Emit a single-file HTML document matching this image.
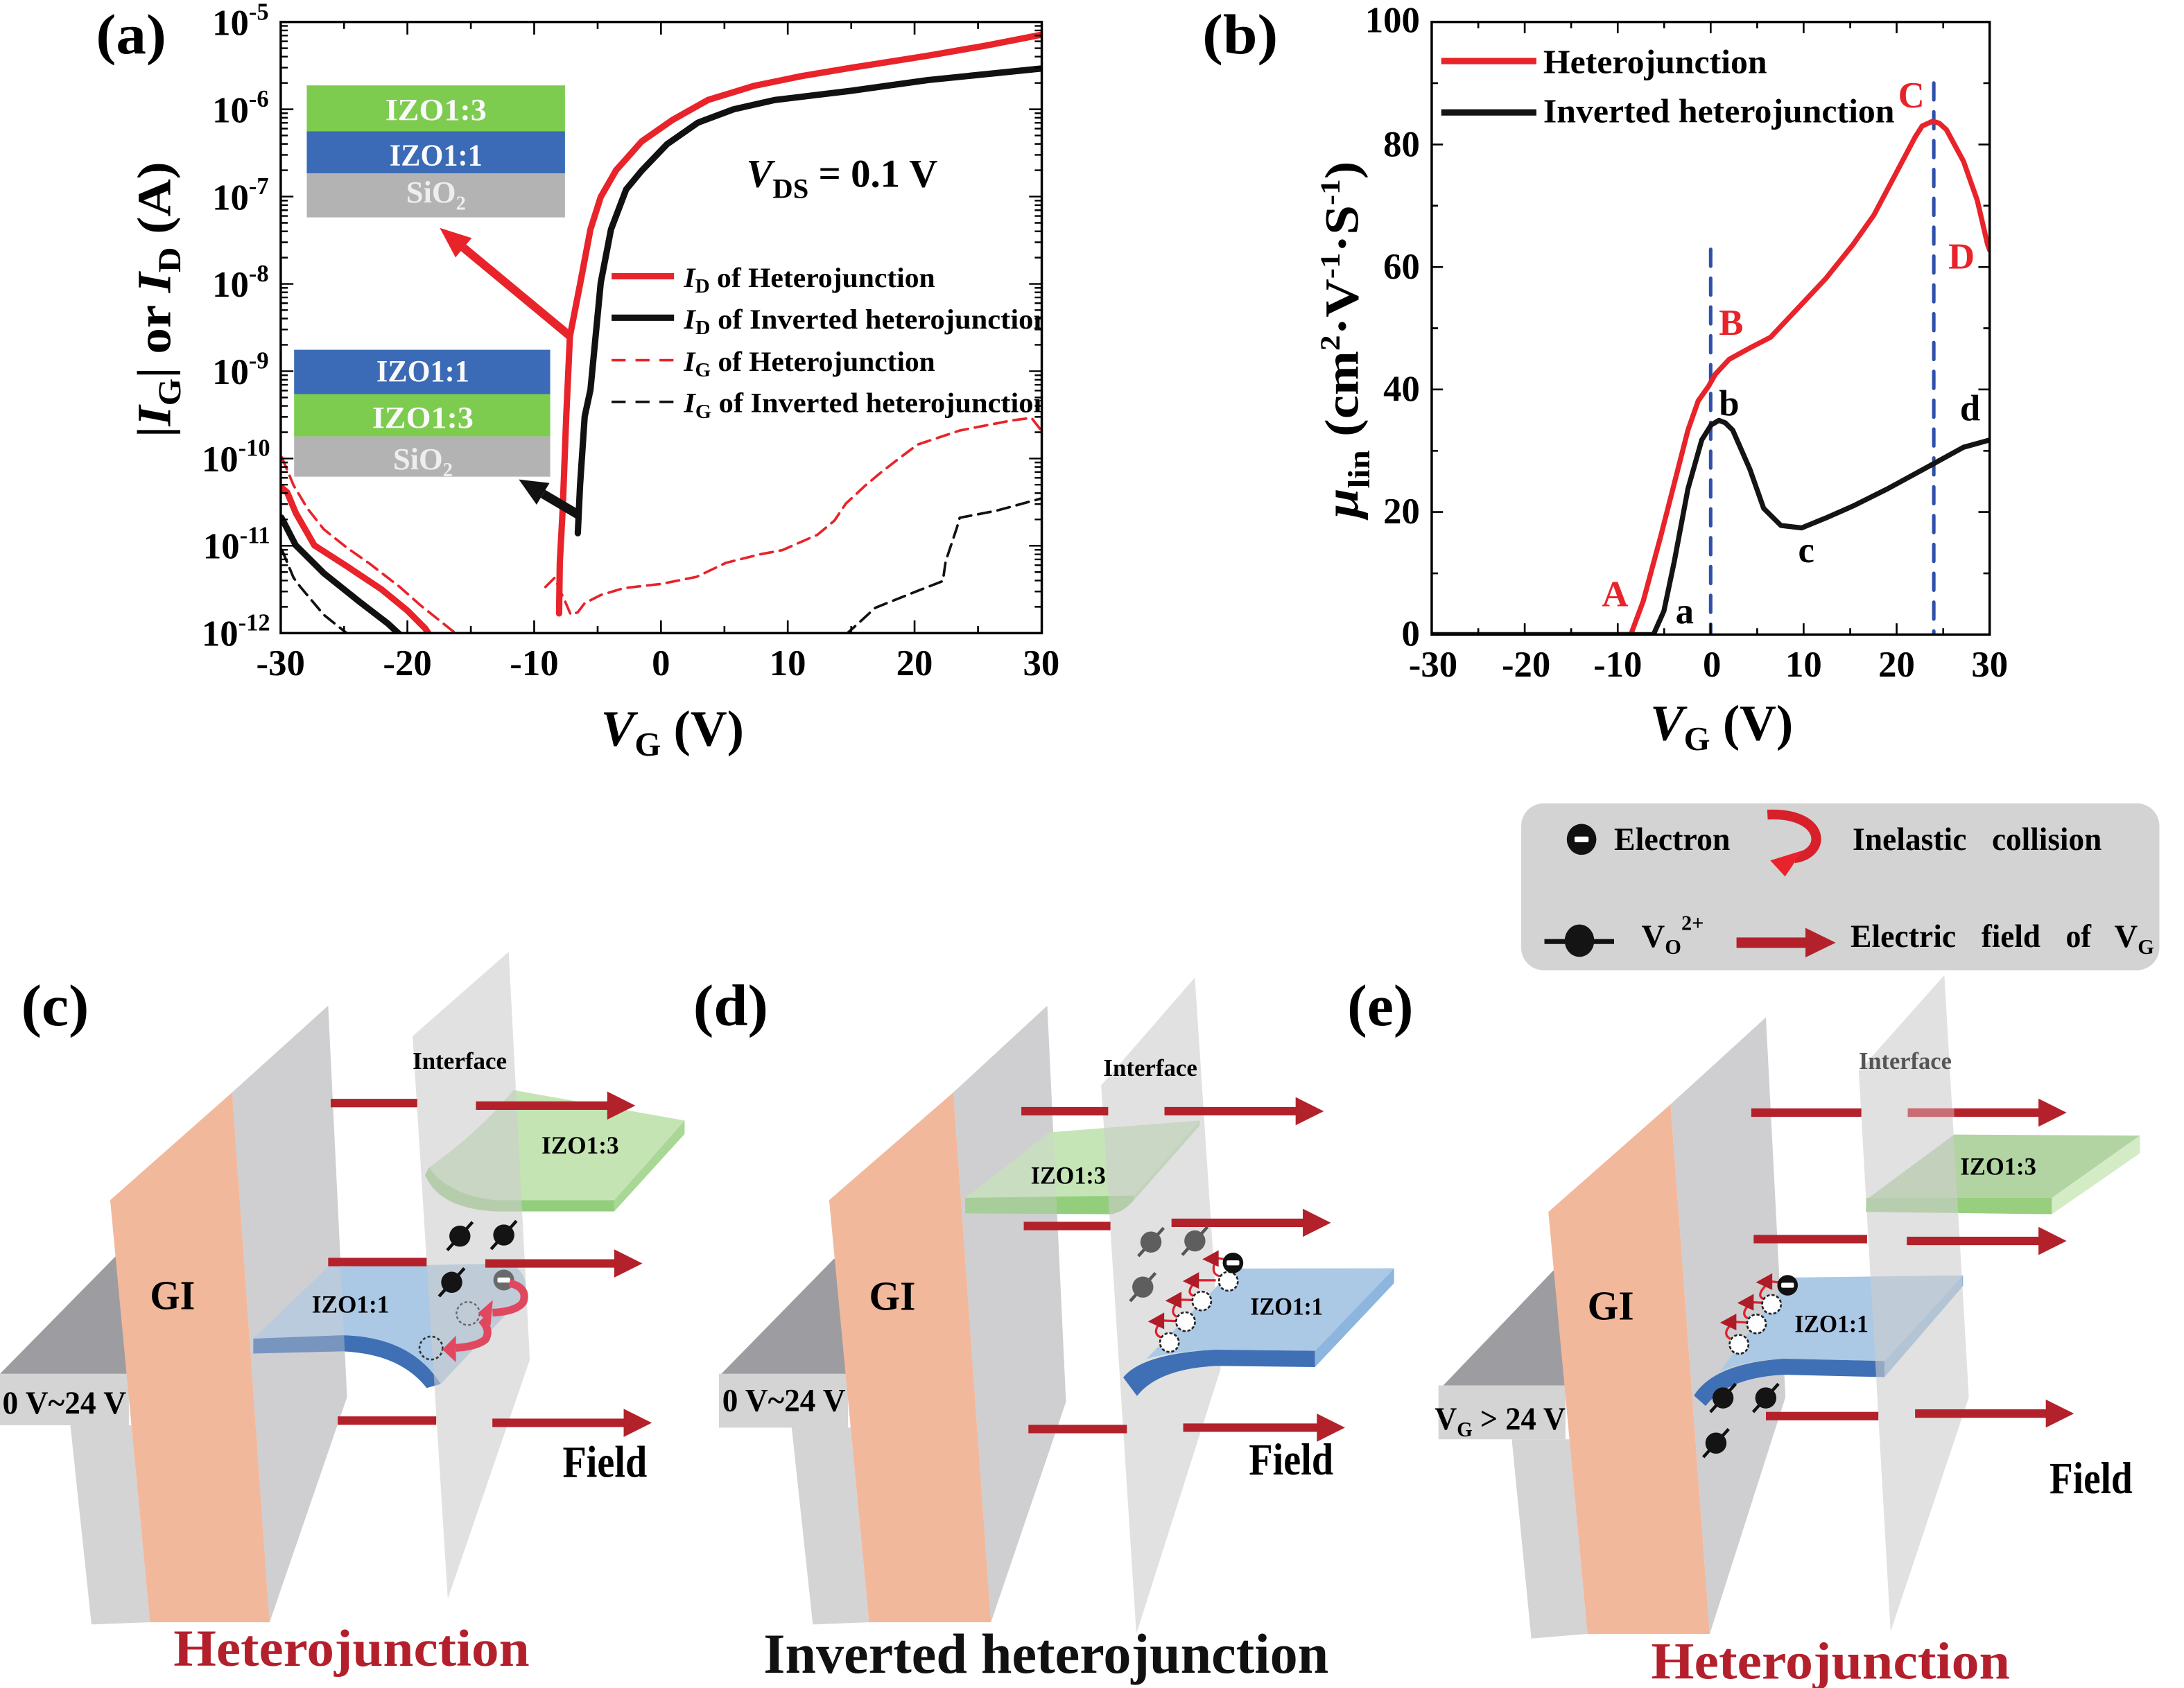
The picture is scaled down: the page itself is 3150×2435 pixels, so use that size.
<!DOCTYPE html>
<html>
<head>
<meta charset="utf-8">
<style>
html,body{margin:0;padding:0;background:#fff;}
svg{display:block;}
text{font-family:"Liberation Serif","Times New Roman",serif;font-weight:bold;}
</style>
</head>
<body>
<svg width="3150" height="2435" viewBox="0 0 1552 1199.75" preserveAspectRatio="none" xmlns="http://www.w3.org/2000/svg">
<defs>
  <g id="dl"><path d="M0,0h9 M0,-18.7h5 M0,-29.6h5 M0,-37.4h5 M0,-43.4h5 M0,-48.3h5 M0,-52.4h5 M0,-56h5 M0,-59.2h5" stroke="#000" stroke-width="1.2" fill="none"/></g>
  <g id="vo"><line x1="-9" y1="10" x2="9" y2="-10" stroke="#111" stroke-width="2.2"/><circle r="7.5" fill="#141414"/></g>
  <g id="vog"><line x1="-9" y1="10" x2="9" y2="-10" stroke="#555" stroke-width="2.2"/><circle r="7.5" fill="#5e5e5e"/></g>
  <g id="el"><circle r="7.3" fill="#111"/><rect x="-4.5" y="-1.8" width="9" height="3.6" rx="1" fill="#fff"/></g>
  <g id="wc"><circle r="6.7" fill="#fff" stroke="#222" stroke-width="1.3" stroke-dasharray="2.2 1.3"/></g>
  <clipPath id="clipA"><rect x="199.5" y="15.6" width="540.8" height="434.4"/></clipPath>
  <clipPath id="clipB"><rect x="1017.4" y="15.6" width="396.5" height="435.4"/></clipPath>
</defs>
<rect x="0" y="0" width="1552" height="1199.75" fill="#fff"/>

<!-- ================= PANEL (a) ================= -->
<text x="68.2" y="38" font-size="40" textLength="50" lengthAdjust="spacingAndGlyphs">(a)</text>

<rect x="218" y="60.7" width="183.5" height="32.6" fill="#7dcb4f"/>
<rect x="218" y="93.3" width="183.5" height="29.9" fill="#3b6bb6"/>
<rect x="218" y="123.2" width="183.5" height="31.3" fill="#b3b3b3"/>
<text x="309.8" y="85.3" font-size="22" fill="#fafafa" text-anchor="middle" textLength="72" lengthAdjust="spacingAndGlyphs">IZO1:3</text>
<text x="309.8" y="117.5" font-size="22" fill="#fafafa" text-anchor="middle" textLength="66" lengthAdjust="spacingAndGlyphs">IZO1:1</text>
<text x="309.8" y="144" font-size="22" fill="#eeeeee" text-anchor="middle">SiO<tspan font-size="14" dy="5">2</tspan></text>

<rect x="209" y="248.6" width="182" height="31.5" fill="#3b6bb6"/>
<rect x="209" y="280.1" width="182" height="30.1" fill="#7dcb4f"/>
<rect x="209" y="310.2" width="182" height="28.6" fill="#b3b3b3"/>
<text x="300.5" y="271" font-size="22" fill="#fafafa" text-anchor="middle" textLength="66" lengthAdjust="spacingAndGlyphs">IZO1:1</text>
<text x="300.5" y="304" font-size="22" fill="#fafafa" text-anchor="middle" textLength="72" lengthAdjust="spacingAndGlyphs">IZO1:3</text>
<text x="300.5" y="333.5" font-size="22" fill="#eeeeee" text-anchor="middle">SiO<tspan font-size="14" dy="5">2</tspan></text>

<g clip-path="url(#clipA)" fill="none" stroke-linejoin="round" stroke-linecap="round">
  <polyline stroke="#e8232a" stroke-width="1.8" stroke-dasharray="9 5" points="200.4,325.2 208.6,344.9 218.4,361.3 230,376.1 246.4,389.2 262.8,400.7 284.1,417.2 298.9,430.3 315.3,443.4 323.6,450"/>
  <polyline stroke="#111" stroke-width="1.8" stroke-dasharray="9 5" points="200.4,390.9 208.6,410.6 213.5,417.2 230,436.9 246.4,450"/>
  <polyline stroke="#e8232a" stroke-width="1.8" stroke-dasharray="9 5" points="387.6,417.2 394.2,410.6 398,420 400.7,425.4 405.6,436.9 410.6,435.2 415.5,428.7 427,422.9 443.4,418 470,415 495,410 516,400 540,394 556,391 581,380 593,370 601,358 615,345 627,335 640,325 652,316 682,306 718,299 733,297 740,306"/>
  <polyline stroke="#111" stroke-width="1.8" stroke-dasharray="9 5" points="601,451 610,443 622,432 652,420 670,413 672,399 680,375 682,368 708,363 741,354"/>
  <polyline stroke="#e8232a" stroke-width="4.5" points="200,346.5 204.1,350 210.2,364.6 223.4,387.6 246.4,402.4 271,418.8 289.1,433.6 302.2,446.7 305,451"/>
  <polyline stroke="#111" stroke-width="4.5" points="200,367.9 210.2,387.6 230,407.3 254.6,427 275.9,443.4 284.1,451"/>
  <polyline stroke="#e8232a" stroke-width="4.5" points="397.3,436 397.8,400 399.9,361.3 402.4,295.6 405,239 412.4,201 419.6,163 426.9,140 437.8,121 456,100.5 477.8,85.3 503.2,71 536,61 570,54 606,48 660,39.5 700,32.5 741,24.5"/>
  <polyline stroke="#111" stroke-width="4.5" points="410.6,379 412.2,345 415.5,296 419.6,277 426.9,201 434.2,163 445,134.6 456,121.3 474.1,102.4 495.9,87.2 521.3,77.7 550.4,71.1 604.9,64.5 659.4,56.9 741,48.6"/>
</g>
<line x1="405" y1="238.8" x2="329.4" y2="176.1" stroke="#e8232a" stroke-width="6"/>
<polygon points="312.5,162 335.2,169.2 323.7,183" fill="#e8232a"/>
<line x1="410.6" y1="365.6" x2="385.9" y2="351" stroke="#111" stroke-width="6.5"/>
<polygon points="368.7,340.8 390.5,343.3 381.3,358.7" fill="#111"/>

<rect x="199.5" y="15.6" width="540.8" height="434.4" fill="none" stroke="#000" stroke-width="1.7"/>
<use href="#dl" transform="translate(199.5,77.66)"/>
<use href="#dl" transform="translate(199.5,139.7)"/>
<use href="#dl" transform="translate(199.5,201.8)"/>
<use href="#dl" transform="translate(199.5,263.8)"/>
<use href="#dl" transform="translate(199.5,325.9)"/>
<use href="#dl" transform="translate(199.5,387.9)"/>
<use href="#dl" transform="translate(199.5,450)"/>
<use href="#dl" transform="translate(740.3,77.66) scale(-1,1)"/>
<use href="#dl" transform="translate(740.3,139.7) scale(-1,1)"/>
<use href="#dl" transform="translate(740.3,201.8) scale(-1,1)"/>
<use href="#dl" transform="translate(740.3,263.8) scale(-1,1)"/>
<use href="#dl" transform="translate(740.3,325.9) scale(-1,1)"/>
<use href="#dl" transform="translate(740.3,387.9) scale(-1,1)"/>
<use href="#dl" transform="translate(740.3,450) scale(-1,1)"/>
<path d="M289.5,450v-9 M379.6,450v-9 M469.7,450v-9 M559.8,450v-9 M649.9,450v-9 M244.5,450v-5 M334.6,450v-5 M424.7,450v-5 M514.8,450v-5 M604.9,450v-5 M695,450v-5
 M289.5,15.6v9 M379.6,15.6v9 M469.7,15.6v9 M559.8,15.6v9 M649.9,15.6v9 M244.5,15.6v5 M334.6,15.6v5 M424.7,15.6v5 M514.8,15.6v5 M604.9,15.6v5 M695,15.6v5" stroke="#000" stroke-width="1.3" fill="none"/>

<g font-size="26" text-anchor="end">
<text x="191" y="25">10<tspan font-size="17" dy="-11">-5</tspan></text>
<text x="191" y="87">10<tspan font-size="17" dy="-11">-6</tspan></text>
<text x="191" y="149">10<tspan font-size="17" dy="-11">-7</tspan></text>
<text x="191" y="211">10<tspan font-size="17" dy="-11">-8</tspan></text>
<text x="191" y="273">10<tspan font-size="17" dy="-11">-9</tspan></text>
<text x="192" y="335">10<tspan font-size="17" dy="-11">-10</tspan></text>
<text x="192" y="397">10<tspan font-size="17" dy="-11">-11</tspan></text>
<text x="192" y="459">10<tspan font-size="17" dy="-11">-12</tspan></text>
</g>
<g font-size="26" text-anchor="middle">
<text x="199.4" y="480">-30</text>
<text x="289.5" y="480">-20</text>
<text x="379.6" y="480">-10</text>
<text x="469.7" y="480">0</text>
<text x="559.8" y="480">10</text>
<text x="649.9" y="480">20</text>
<text x="740" y="480">30</text>
</g>
<text x="427" y="530" font-size="36"><tspan font-style="italic">V</tspan><tspan font-size="24" dy="7">G</tspan><tspan dy="-7"> (V)</tspan></text>
<text transform="translate(121,213) rotate(-90)" text-anchor="middle" font-size="34" textLength="196" lengthAdjust="spacingAndGlyphs">|<tspan font-style="italic">I</tspan><tspan font-size="23" dy="7">G</tspan><tspan dy="-7">| or </tspan><tspan font-style="italic">I</tspan><tspan font-size="23" dy="7">D</tspan><tspan dy="-7"> (A)</tspan></text>

<text x="530.4" y="132.7" font-size="28"><tspan font-style="italic">V</tspan><tspan font-size="20" dy="8">DS</tspan><tspan dy="-8"> = 0.1 V</tspan></text>

<line x1="434.6" y1="196.3" x2="479" y2="196.3" stroke="#e8232a" stroke-width="4.5"/>
<line x1="434.6" y1="225.8" x2="479" y2="225.8" stroke="#111" stroke-width="4.5"/>
<line x1="434.6" y1="256" x2="479" y2="256" stroke="#e8232a" stroke-width="1.8" stroke-dasharray="10 7"/>
<line x1="434.6" y1="285.6" x2="479" y2="285.6" stroke="#111" stroke-width="1.8" stroke-dasharray="10 7"/>
<g font-size="20" clip-path="url(#clipA)">
<text x="486" y="204" textLength="178.5" lengthAdjust="spacingAndGlyphs"><tspan font-style="italic">I</tspan><tspan font-size="14" dy="4">D</tspan><tspan dy="-4"> of Heterojunction</tspan></text>
<text x="486" y="233.5" textLength="260" lengthAdjust="spacingAndGlyphs"><tspan font-style="italic">I</tspan><tspan font-size="14" dy="4">D</tspan><tspan dy="-4"> of Inverted heterojunction</tspan></text>
<text x="486" y="263.5" textLength="178.5" lengthAdjust="spacingAndGlyphs"><tspan font-style="italic">I</tspan><tspan font-size="14" dy="4">G</tspan><tspan dy="-4"> of Heterojunction</tspan></text>
<text x="486" y="293" textLength="260" lengthAdjust="spacingAndGlyphs"><tspan font-style="italic">I</tspan><tspan font-size="14" dy="4">G</tspan><tspan dy="-4"> of Inverted heterojunction</tspan></text>
</g>

<!-- ================= PANEL (b) ================= -->
<text x="854.4" y="38" font-size="40" textLength="53.8" lengthAdjust="spacingAndGlyphs">(b)</text>
<g clip-path="url(#clipB)" fill="none" stroke-linejoin="round" stroke-linecap="round">
  <line x1="1215.65" y1="177.2" x2="1215.65" y2="451" stroke="#2f50aa" stroke-width="2.5" stroke-dasharray="12 8.5"/>
  <line x1="1374.2" y1="59" x2="1374.2" y2="451" stroke="#2f50aa" stroke-width="2.5" stroke-dasharray="12 8.5"/>
  <polyline stroke="#e8232a" stroke-width="3.6" points="1150,451 1158.9,451 1167.7,427.3 1179.9,382.1 1189.7,343.9 1199.5,305.7 1206.8,284.9 1214.2,274.4 1219.1,265.8 1228.9,255.3 1243.5,247.3 1258.2,239.7 1277.8,218.9 1297.4,198 1316.9,173.7 1331.6,152.9 1346.3,125.1 1361,97.3 1366,89.5 1373.3,86.2 1378,87.5 1383.1,92.1 1395.3,114.6 1405.1,142.4 1412.4,173.7 1414,178"/>
  <polyline stroke="#141414" stroke-width="3.6" points="1017.4,451 1175,451 1182.4,434.3 1189.7,399.5 1199.5,347.4 1209.3,312.7 1216,302 1221.5,298.8 1226,300.5 1231.3,305.7 1243.5,333.5 1253.3,361.3 1265.6,373.5 1280.3,375.2 1297.4,368.2 1316.9,359.6 1341.4,347.4 1373.3,330 1395.3,317.9 1414,312.7"/>
</g>
<rect x="1017.4" y="15.6" width="396.5" height="435.4" fill="none" stroke="#000" stroke-width="1.7"/>
<path d="M1017.4,363.9h8 M1017.4,276.8h8 M1017.4,189.8h8 M1017.4,102.7h8 M1017.4,407.5h4.5 M1017.4,320.4h4.5 M1017.4,233.3h4.5 M1017.4,146.2h4.5 M1017.4,59.1h4.5
 M1413.9,363.9h-8 M1413.9,276.8h-8 M1413.9,189.8h-8 M1413.9,102.7h-8 M1413.9,407.5h-4.5 M1413.9,320.4h-4.5 M1413.9,233.3h-4.5 M1413.9,146.2h-4.5 M1413.9,59.1h-4.5
 M1083.5,451v-8 M1149.6,451v-8 M1215.65,451v-8 M1281.7,451v-8 M1347.8,451v-8 M1050.5,451v-4.5 M1116.5,451v-4.5 M1182.6,451v-4.5 M1248.7,451v-4.5 M1314.8,451v-4.5 M1380.9,451v-4.5
 M1083.5,15.6v8 M1149.6,15.6v8 M1215.65,15.6v8 M1281.7,15.6v8 M1347.8,15.6v8 M1050.5,15.6v4.5 M1116.5,15.6v4.5 M1182.6,15.6v4.5 M1248.7,15.6v4.5 M1314.8,15.6v4.5 M1380.9,15.6v4.5" stroke="#000" stroke-width="1.3" fill="none"/>
<g font-size="26" text-anchor="end">
<text x="1009" y="23">100</text>
<text x="1009" y="111">80</text>
<text x="1009" y="198">60</text>
<text x="1009" y="285">40</text>
<text x="1009" y="372">20</text>
<text x="1009" y="459">0</text>
</g>
<g font-size="26" text-anchor="middle">
<text x="1018.4" y="481">-30</text>
<text x="1084.5" y="481">-20</text>
<text x="1149.6" y="481">-10</text>
<text x="1216.6" y="481">0</text>
<text x="1281.7" y="481">10</text>
<text x="1347.8" y="481">20</text>
<text x="1413.9" y="481">30</text>
</g>
<text x="1172.6" y="526" font-size="36"><tspan font-style="italic">V</tspan><tspan font-size="24" dy="7">G</tspan><tspan dy="-7"> (V)</tspan></text>
<text transform="translate(965,241.4) rotate(-90)" text-anchor="middle" font-size="34" textLength="253.6" lengthAdjust="spacingAndGlyphs"><tspan font-style="italic">μ</tspan><tspan font-size="22" dy="8">lin</tspan><tspan dy="-8">  (cm</tspan><tspan font-size="20" dy="-13">2</tspan><tspan dy="13">·V</tspan><tspan font-size="20" dy="-13">-1</tspan><tspan dy="13">·S</tspan><tspan font-size="20" dy="-13">-1</tspan><tspan dy="13">)</tspan></text>
<line x1="1024.2" y1="43.4" x2="1091.8" y2="43.4" stroke="#e8232a" stroke-width="4.5"/>
<line x1="1024.2" y1="79.9" x2="1091.8" y2="79.9" stroke="#141414" stroke-width="4.5"/>
<text x="1096.7" y="52" font-size="24" textLength="159" lengthAdjust="spacingAndGlyphs">Heterojunction</text>
<text x="1096.7" y="87" font-size="24" textLength="249.6" lengthAdjust="spacingAndGlyphs">Inverted heterojunction</text>
<g font-size="26">
<text x="1138.3" y="430.8" fill="#e8232a">A</text>
<text x="1190.7" y="443">a</text>
<text x="1221.5" y="238" fill="#e8232a">B</text>
<text x="1221.5" y="295.3">b</text>
<text x="1348.8" y="76.4" fill="#e8232a">C</text>
<text x="1277.8" y="399.5">c</text>
<text x="1384.5" y="191" fill="#e8232a">D</text>
<text x="1392.8" y="298.8">d</text>
</g>

<!-- ================= LEGEND BOX ================= -->
<rect x="1081" y="571" width="453.5" height="118.6" rx="16" ry="16" fill="#d3d3d3"/>
<g transform="translate(1123.9,596.6)"><ellipse rx="10.5" ry="11" fill="#111"/><rect x="-5" y="-2" width="10" height="4" rx="1" fill="#fff"/></g>
<text x="1147" y="604" font-size="23" textLength="82.5" lengthAdjust="spacingAndGlyphs">Electron</text>
<path d="M1256,579 C1296,577 1300,606 1275,610" fill="none" stroke="#d8202b" stroke-width="7"/>
<polygon points="1258,611.6 1281,604.5 1268.5,623" fill="#e8232a"/>
<text x="1316.5" y="604" font-size="23" textLength="81" lengthAdjust="spacingAndGlyphs">Inelastic</text>
<text x="1415.5" y="604" font-size="23" textLength="78" lengthAdjust="spacingAndGlyphs">collision</text>
<line x1="1097.5" y1="669.2" x2="1147" y2="669.2" stroke="#111" stroke-width="3.5"/>
<ellipse cx="1122.4" cy="668.6" rx="10.5" ry="11.5" fill="#141414"/>
<text x="1166.5" y="673" font-size="23">V<tspan font-size="15" dy="5">O</tspan><tspan font-size="15" dy="-17">2+</tspan></text>
<path d="M1234,666.3 L1283,666.3 L1283,659.5 L1304.5,670 L1283,680.5 L1283,673.7 L1234,673.7 Z" fill="#b3212b"/>
<text x="1315" y="673" font-size="23" textLength="75" lengthAdjust="spacingAndGlyphs">Electric</text>
<text x="1408" y="673" font-size="23" textLength="42" lengthAdjust="spacingAndGlyphs">field</text>
<text x="1468" y="673" font-size="23" textLength="18" lengthAdjust="spacingAndGlyphs">of</text>
<text x="1502.5" y="673" font-size="23">V<tspan font-size="15" dy="5">G</tspan></text>

<!-- ================= PANEL (c) ================= -->
<text x="15" y="728.8" font-size="42" textLength="48.3" lengthAdjust="spacingAndGlyphs">(c)</text>
<rect x="0" y="976.4" width="91.6" height="36.6" fill="#d4d4d4"/>
<polygon points="50,1013 93.4,1013 106.6,1153 65,1154.6" fill="#d4d4d4"/>
<polygon points="0,976.4 84,891 93.3,891 93.3,976.4" fill="#9d9da1"/>
<polygon points="78.3,853 165,776.4 191.6,1153 106.6,1153" fill="#f2b89c"/>
<polygon points="165,776.4 233.2,714.8 246.6,993 191.6,1153" fill="#cfcfd1"/>
<path d="M364.9,774.8 L486.5,796.4 L436.5,853 L352,853 Q318,849 304.9,829.7 Q340,805 364.9,774.8 Z" fill="#c4e4b4"/>
<path d="M304.9,829.7 Q318,849 352,853 L436.5,853 L436.5,861 L352,861 Q312,859 302,835 Z" fill="#93ce7c"/>
<path d="M436.5,853 L486.5,796.4 L486.5,806 L436.5,861 Z" fill="#a9d896"/>
<path d="M180,951.4 L233.2,900.4 L363.2,898 Q376,906 373.2,919.7 L313.2,983.7 Q292,950 243.2,949 Z" fill="#abc9e5"/>
<path d="M180,951.4 L243.2,949 Q292,950 313.2,983.7 L303.2,986.5 Q284,962 243.2,960.5 L180,962 Z" fill="#3f6fb5"/>
<polygon points="165,776.4 233.2,714.8 246.6,993 191.6,1153" fill="#cfcfd1" opacity="0.4"/>
<polygon points="293.2,736.4 361.5,676.5 376.5,966.4 318.2,1136.3" fill="#cdcdcd" opacity="0.6"/>
<g fill="#b3212b">
<rect x="235" y="781" width="61.5" height="6"/>
<path d="M338.2,782.8 L431.5,782.8 L431.5,775.8 L451.5,785.8 L431.5,795.8 L431.5,788.8 L338.2,788.8 Z"/>
<rect x="233.2" y="894" width="70" height="6"/>
<path d="M344.9,895 L436.5,895 L436.5,888 L456.5,898 L436.5,908 L436.5,901 L344.9,901 Z"/>
<rect x="240" y="1006.7" width="70" height="6"/>
<path d="M349.9,1008.3 L443.2,1008.3 L443.2,1001.3 L463.2,1011.3 L443.2,1021.3 L443.2,1014.3 L349.9,1014.3 Z"/>
</g>
<use href="#vo" x="326.8" y="878.6"/>
<use href="#vo" x="358" y="877.8"/>
<use href="#vo" x="321" y="911.4"/>
<g transform="translate(358,909.8)"><circle r="7.4" fill="#6a6a6a"/><rect x="-4.5" y="-1.8" width="9" height="3.6" rx="1" fill="#fff"/></g>
<circle cx="332.6" cy="933.6" r="8.2" fill="none" stroke="#666" stroke-width="1.2" stroke-dasharray="2 1.6"/>
<circle cx="306.3" cy="958.1" r="8.2" fill="none" stroke="#333" stroke-width="1.3" stroke-dasharray="2 1.6"/>
<path d="M362,912 Q375,915 372,925 Q368,932 350,933" fill="none" stroke="#e0485f" stroke-width="5.5"/>
<polygon points="350.2,924.1 348.6,942.1 339.9,933.1" fill="#e0485f"/>
<path d="M342,938 Q349,945 345,952 Q339,957 324,958" fill="none" stroke="#e0485f" stroke-width="5.5"/>
<polygon points="324,949.3 324,968.2 314.3,959.2" fill="#e0485f"/>
<text x="1.7" y="1004.7" font-size="23" textLength="88" lengthAdjust="spacingAndGlyphs">0 V~24 V</text>
<text x="106.6" y="930.4" font-size="29" textLength="32" lengthAdjust="spacingAndGlyphs">GI</text>
<text x="293.2" y="759.8" font-size="17" textLength="67" lengthAdjust="spacingAndGlyphs">Interface</text>
<text x="384.8" y="819.8" font-size="17.5" textLength="55" lengthAdjust="spacingAndGlyphs">IZO1:3</text>
<text x="221.6" y="933" font-size="17.5" textLength="55" lengthAdjust="spacingAndGlyphs">IZO1:1</text>
<text x="399.8" y="1049.7" font-size="32" textLength="60" lengthAdjust="spacingAndGlyphs">Field</text>
<text x="123.3" y="1184" font-size="37" fill="#b3202c" textLength="253" lengthAdjust="spacingAndGlyphs">Heterojunction</text>

<!-- ================= PANEL (d) ================= -->
<text x="492.6" y="728.8" font-size="42" textLength="53.3" lengthAdjust="spacingAndGlyphs">(d)</text>
<rect x="510.9" y="976.4" width="91.7" height="38.3" fill="#d4d4d4"/>
<polygon points="562.6,1014.7 604.5,1014.7 617.6,1153 577.6,1154.6" fill="#d4d4d4"/>
<polygon points="512.6,976.4 592.6,894.7 603,894.7 603,976.4" fill="#9d9da1"/>
<polygon points="589.2,853 677.5,776.4 704.2,1153 617.6,1153" fill="#f2b89c"/>
<polygon points="677.5,776.4 744.2,714.8 757.5,996.3 704.2,1153" fill="#cfcfd1"/>
<path d="M685.9,851.4 L745.8,804.8 L852.5,796.4 L805.8,849.7 Z" fill="#c6e5b7"/>
<path d="M685.9,851.4 L805.8,849.7 L805.8,853 Q798,862 789,863 L685.9,862.4 Z" fill="#93ce7c"/>
<path d="M805.8,849.7 L852.5,796.4 L852.5,800 L805.8,853 Z" fill="#b5dca4"/>
<polygon points="677.5,776.4 744.2,714.8 757.5,996.3 704.2,1153" fill="#cfcfd1" opacity="0.35"/>
<polygon points="782.5,771.4 849.1,694.8 867.4,973 807.5,1161.3" fill="#cdcdcd" opacity="0.6"/>
<path d="M877,901.6 L990.7,901.4 L934.5,960.1 L863.9,959.3 Q830,961 814.6,966 L824.5,955.7 Z" fill="#abc9e5"/>
<path d="M798.2,979 Q812,962 863.9,959.3 L934.5,960.1 L934.5,971.6 L863.9,970.8 Q823,973 808,992.2 Z" fill="#3f6fb5"/>
<path d="M934.5,960.1 L990.7,901.4 L990.7,912 L934.5,971.6 Z" fill="#8db6de"/>
<g fill="#b3212b">
<rect x="725.8" y="786.8" width="61.7" height="6"/>
<path d="M827.5,786.8 L920.7,786.8 L920.7,779.8 L940.7,789.8 L920.7,799.8 L920.7,792.8 L827.5,792.8 Z"/>
<rect x="727.5" y="868.4" width="61.6" height="6"/>
<path d="M832.5,866.1 L925.8,866.1 L925.8,859.1 L945.8,869.1 L925.8,879.1 L925.8,872.1 L832.5,872.1 Z"/>
<rect x="730.8" y="1012.7" width="70" height="6"/>
<path d="M840.8,1011.7 L935.8,1011.7 L935.8,1004.7 L955.8,1014.7 L935.8,1024.7 L935.8,1017.7 L840.8,1017.7 Z"/>
</g>
<use href="#vog" x="817.9" y="882.8"/>
<use href="#vog" x="849.1" y="882"/>
<use href="#vog" x="812.1" y="914.8"/>
<g fill="none" stroke="#e0202e" stroke-width="1.6">
<path d="M867,907 C860,906 862,897 866,894.3 L870,895"/>
<path d="M848,921 C842,919 848,911 852,909.9 L864,910"/>
<path d="M836.5,936 C830,933 836,925 839.6,923.8 L848,924"/>
<path d="M825,950.5 C818,948 823,940 827.3,938.6 L836,939"/>
</g>
<g fill="#ad1c27">
<polygon points="854.4,895 866,888.6 866,900.4"/>
<polygon points="840.5,910.6 852,904.2 852,916"/>
<polygon points="828.1,924.5 839.6,918.1 839.6,929.9"/>
<polygon points="815.8,939.3 827.3,932.9 827.3,944.7"/>
</g>
<use href="#wc" x="872.9" y="910.7"/>
<use href="#wc" x="854" y="924.7"/>
<use href="#wc" x="842.5" y="939.4"/>
<use href="#wc" x="831" y="954.2"/>
<use href="#el" x="876.2" y="897.6"/>
<text x="513.3" y="1003" font-size="23" textLength="87.6" lengthAdjust="spacingAndGlyphs">0 V~24 V</text>
<text x="617.6" y="931" font-size="29" textLength="33" lengthAdjust="spacingAndGlyphs">GI</text>
<text x="784.1" y="764.8" font-size="17" textLength="66.7" lengthAdjust="spacingAndGlyphs">Interface</text>
<text x="732.5" y="841.4" font-size="17.5" textLength="53.3" lengthAdjust="spacingAndGlyphs">IZO1:3</text>
<text x="888.5" y="934.5" font-size="17.5" textLength="51.7" lengthAdjust="spacingAndGlyphs">IZO1:1</text>
<text x="887.5" y="1048" font-size="32" textLength="60" lengthAdjust="spacingAndGlyphs">Field</text>
<text x="542.6" y="1189" font-size="40" fill="#111" textLength="401.5" lengthAdjust="spacingAndGlyphs">Inverted heterojunction</text>

<!-- ================= PANEL (e) ================= -->
<text x="957.4" y="728.8" font-size="42" textLength="47" lengthAdjust="spacingAndGlyphs">(e)</text>
<rect x="1022.2" y="984.7" width="90.3" height="38.3" fill="#d4d4d4"/>
<polygon points="1074.3,1023 1115.3,1023 1128.1,1161.3 1088.2,1164.6" fill="#d4d4d4"/>
<polygon points="1025.6,984.7 1103.8,903 1114.2,903 1114.2,984.7" fill="#9d9da1"/>
<polygon points="1100.3,861.4 1187.2,784.8 1215,1161.3 1128.1,1161.3" fill="#f2b89c"/>
<polygon points="1187.2,784.8 1254.9,723.1 1268.8,993 1215,1161.3" fill="#cfcfd1"/>
<path d="M1327.9,851.4 L1388.7,806.4 L1520.7,807.1 L1458.1,851.4 Z" fill="#b2d4a3"/>
<path d="M1326.1,851.4 L1458.1,851.4 L1458.1,863 L1326.1,861.4 Z" fill="#97cf7f"/>
<path d="M1458.1,851.4 L1520.7,807.1 L1520.7,819.7 L1458.1,863 Z" fill="#d3ecc6"/>
<path d="M1272,908 L1395,906.5 L1339.2,967.3 L1267.8,965.7 Q1238,967 1222,975 Z" fill="#abc9e5"/>
<path d="M1203.8,991.9 Q1218,969 1267.8,965.7 L1339.2,967.3 L1339.2,978.8 L1267.8,977.1 Q1228,979 1212,999.3 Z" fill="#3f6fb5"/>
<path d="M1339.2,967.3 L1395,906.5 L1395,914 L1339.2,978.8 Z" fill="#8db6de"/>
<polygon points="1320.9,761.4 1381.7,693.1 1399.1,993 1343.5,1159.6" fill="#cdcdcd" opacity="0.6"/>
<g fill="#b3212b">
<rect x="1244.5" y="787.8" width="78.2" height="6"/>
<path d="M1355.7,787.8 L1448.6,787.8 L1448.6,780.8 L1468.6,790.8 L1448.6,800.8 L1448.6,793.8 L1355.7,793.8 Z"/>
<rect x="1246.2" y="877.7" width="80.6" height="6"/>
<path d="M1355,879 L1448.6,879 L1448.6,872 L1468.6,882 L1448.6,892 L1448.6,885 L1355,885 Z"/>
<rect x="1254.9" y="1003.5" width="79.9" height="6"/>
<path d="M1360.9,1001.7 L1453.8,1001.7 L1453.8,994.7 L1473.8,1004.7 L1453.8,1014.7 L1453.8,1007.7 L1360.9,1007.7 Z"/>
</g>
<rect x="1355.7" y="787.8" width="33" height="6" fill="#e6c9cc" opacity="0.45"/>
<use href="#vo" x="1224.4" y="993.6"/>
<use href="#vo" x="1254.8" y="993.6"/>
<use href="#vo" x="1219.4" y="1025.7"/>
<g fill="none" stroke="#e0202e" stroke-width="1.6">
<path d="M1253,923 C1247,921 1255,912 1259.4,910.9 L1264,911.5"/>
<path d="M1242,937 C1236,934 1242,927 1246.2,925.6 L1253,926"/>
<path d="M1229.5,951.5 C1223,948 1229,941 1233.9,939.6 L1241,940"/>
</g>
<g fill="#ad1c27">
<polygon points="1247.8,911.4 1259.4,905 1259.4,916.8"/>
<polygon points="1234.6,926.1 1246.2,919.7 1246.2,931.5"/>
<polygon points="1222.3,940.1 1233.9,933.7 1233.9,945.5"/>
</g>
<use href="#wc" x="1258.9" y="927.1"/>
<use href="#wc" x="1248.2" y="941"/>
<use href="#wc" x="1235.8" y="955.5"/>
<use href="#el" x="1270.3" y="913.5"/>
<text x="1019.5" y="1016" font-size="23" textLength="93" lengthAdjust="spacingAndGlyphs">V<tspan font-size="15" dy="5">G</tspan><tspan dy="-5"> &gt; 24 V</tspan></text>
<text x="1128.1" y="938" font-size="29" textLength="33" lengthAdjust="spacingAndGlyphs">GI</text>
<text x="1320.9" y="759.8" font-size="17" fill="#555" textLength="66" lengthAdjust="spacingAndGlyphs">Interface</text>
<text x="1393" y="835" font-size="17.5" textLength="54" lengthAdjust="spacingAndGlyphs">IZO1:3</text>
<text x="1275.3" y="946.8" font-size="17.5" textLength="52.5" lengthAdjust="spacingAndGlyphs">IZO1:1</text>
<text x="1456.4" y="1061.3" font-size="32" textLength="59" lengthAdjust="spacingAndGlyphs">Field</text>
<text x="1173.3" y="1193" font-size="37" fill="#b3202c" textLength="255" lengthAdjust="spacingAndGlyphs">Heterojunction</text>
</svg>
</body>
</html>
